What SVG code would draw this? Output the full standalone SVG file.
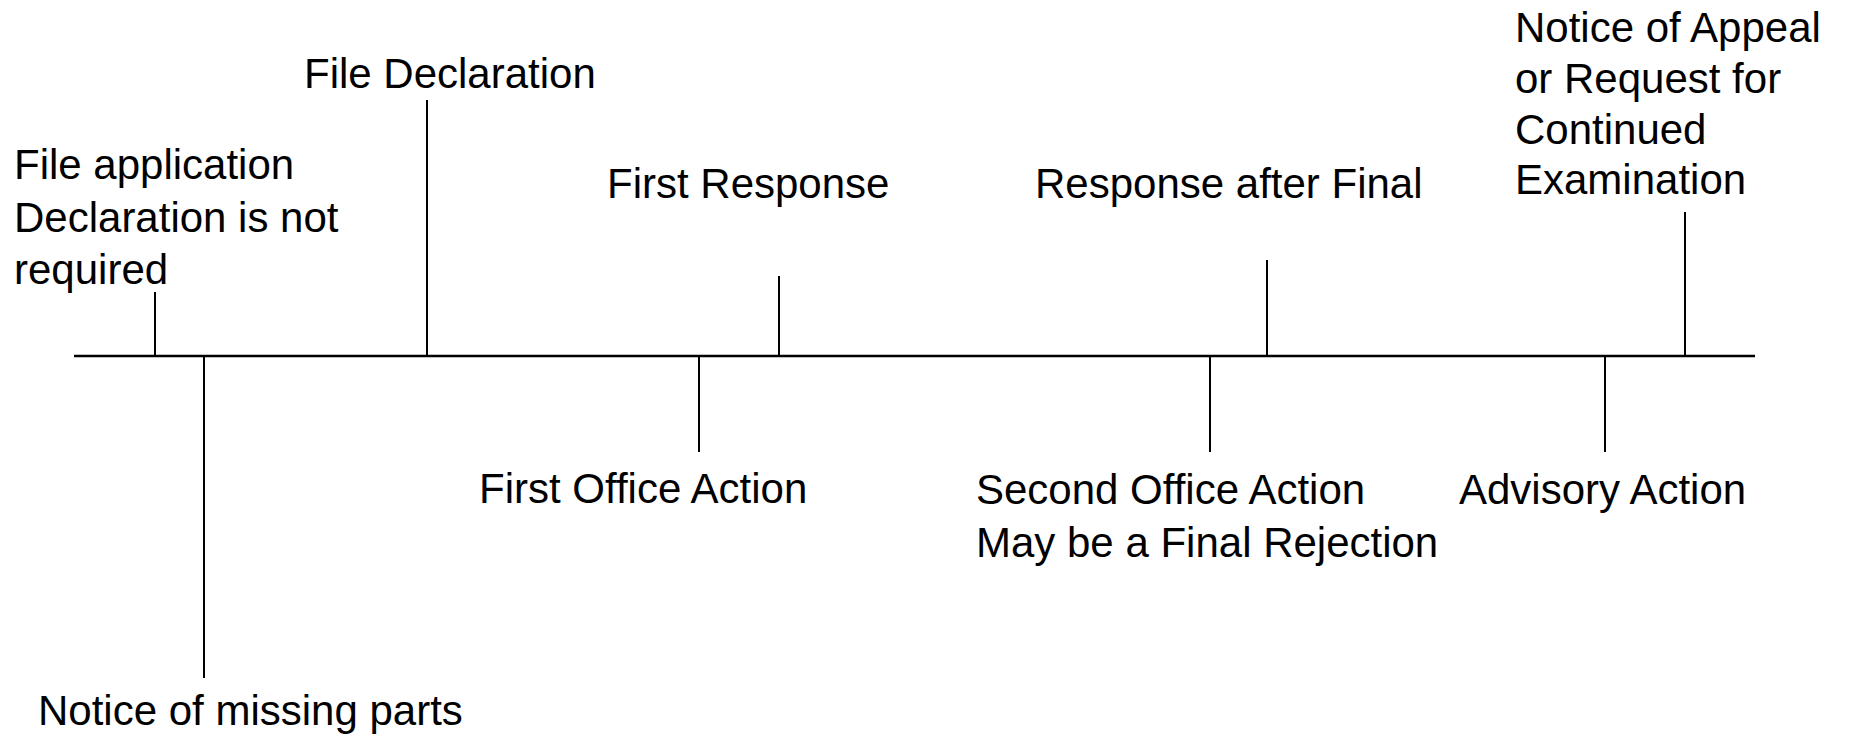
<svg xmlns="http://www.w3.org/2000/svg" width="1849" height="736" viewBox="0 0 1849 736">
<style>
text{font-family:"Liberation Sans",Arial,sans-serif;font-size:42px;fill:#000}
.ax{stroke:#000;stroke-width:2.5;fill:none}
.tk{stroke:#000;stroke-width:2;fill:none}
</style>
<rect width="1849" height="736" fill="#fff"/>
<g id="connectors">
<line class="ax" x1="74" y1="356" x2="1755" y2="356"/>
<line class="tk" x1="155" y1="292" x2="155" y2="356"/>
<line class="tk" x1="204" y1="356" x2="204" y2="678"/>
<line class="tk" x1="427" y1="100" x2="427" y2="356"/>
<line class="tk" x1="699" y1="356" x2="699" y2="452"/>
<line class="tk" x1="779" y1="276" x2="779" y2="356"/>
<line class="tk" x1="1210" y1="356" x2="1210" y2="452"/>
<line class="tk" x1="1267" y1="260" x2="1267" y2="356"/>
<line class="tk" x1="1605" y1="356" x2="1605" y2="452"/>
<line class="tk" x1="1685" y1="212" x2="1685" y2="356"/>
</g>
<g id="file-application"><text x="14" y="179">File application</text><text x="14" y="231.5">Declaration is not</text><text x="14" y="284">required</text></g>
<g id="missing-parts"><text x="38" y="725">Notice of missing parts</text></g>
<g id="file-declaration"><text x="304" y="88">File Declaration</text></g>
<g id="first-office-action"><text x="479" y="503">First Office Action</text></g>
<g id="first-response"><text x="607" y="198">First Response</text></g>
<g id="second-office-action"><text x="976" y="504">Second Office Action</text><text x="976" y="557">May be a Final Rejection</text></g>
<g id="response-after-final"><text x="1035" y="198">Response after Final</text></g>
<g id="advisory-action"><text x="1459" y="504">Advisory Action</text></g>
<g id="notice-of-appeal"><text x="1515" y="42">Notice of Appeal</text><text x="1515" y="92.5">or Request for</text><text x="1515" y="143.5">Continued</text><text x="1515" y="194">Examination</text></g>
</svg>
